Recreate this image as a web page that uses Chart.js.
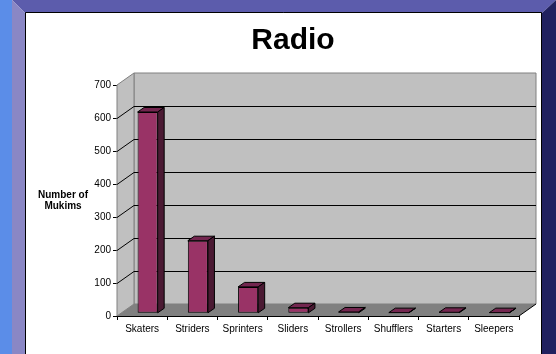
<!DOCTYPE html>
<html>
<head>
<meta charset="utf-8">
<style>
  html, body { margin: 0; padding: 0; background: #fff; }
  canvas { display: block; }
</style>
<script src="https://cdn.jsdelivr.net/npm/chart.js@4/dist/chart.umd.min.js"></script>
</head>
<body>
<canvas id="radio" width="556" height="354"></canvas>
<script>
const categories = ['Skaters', 'Striders', 'Sprinters', 'Sliders', 'Strollers', 'Shufflers', 'Starters', 'Sleepers'];
const mukims = [610, 220, 80, 17, 4, 2, 3, 2];
const yTicks = [0, 100, 200, 300, 400, 500, 600, 700];

const FONT = '"Liberation Sans", Arial, sans-serif';
// depth of the box and where the bars sit inside it
const DEPTH = { x: 17, y: -12 };
const BAR_SHIFT = { x: 5.5, y: -2.7 };
const BAR_DEPTH = { x: 6.5, y: -4.5 };

// slide frame + white panel
const framePlugin = {
  id: 'frame',
  beforeDraw(chart) {
    const ctx = chart.ctx;
    ctx.save();
    ctx.fillStyle = '#ffffff';
    ctx.fillRect(0, 0, 556, 354);

    ctx.fillStyle = '#5c5cac';
    ctx.beginPath();
    ctx.moveTo(12, 0); ctx.lineTo(556, 0); ctx.lineTo(542, 13); ctx.lineTo(25, 13);
    ctx.closePath(); ctx.fill();

    ctx.fillStyle = '#5b8de8';
    ctx.fillRect(0, 0, 12, 354);

    ctx.fillStyle = '#8a87c5';
    ctx.beginPath();
    ctx.moveTo(12, 0); ctx.lineTo(25, 13); ctx.lineTo(25, 354); ctx.lineTo(12, 354);
    ctx.closePath(); ctx.fill();

    ctx.fillStyle = '#21215f';
    ctx.beginPath();
    ctx.moveTo(556, 0); ctx.lineTo(556, 354); ctx.lineTo(542, 354); ctx.lineTo(542, 13);
    ctx.closePath(); ctx.fill();

    ctx.strokeStyle = '#000';
    ctx.lineWidth = 1;
    ctx.beginPath();
    ctx.moveTo(25.5, 354); ctx.lineTo(25.5, 12.5); ctx.lineTo(541.5, 12.5); ctx.lineTo(541.5, 354);
    ctx.stroke();

    // title and axis caption
    ctx.fillStyle = '#000';
    ctx.textAlign = 'center';
    ctx.textBaseline = 'alphabetic';
    ctx.font = 'bold 30px ' + FONT;
    ctx.fillText('Radio', 293, 49);
    ctx.font = 'bold 10px ' + FONT;
    ctx.textBaseline = 'middle';
    ctx.fillText('Number of', 63, 195);
    ctx.fillText('Mukims', 63, 206);
    ctx.restore();
  }
};

// walls, floor and gridlines of the 3D box
const boxPlugin = {
  id: 'box3d',
  beforeDatasetsDraw(chart) {
    const ctx = chart.ctx;
    const a = chart.chartArea;
    const y = chart.scales.y;
    const L = a.left, R = a.right, T = a.top, B = a.bottom;
    const dx = DEPTH.x, dy = DEPTH.y;
    ctx.save();
    ctx.lineWidth = 1;

    // back wall
    ctx.fillStyle = '#c0c0c0';
    ctx.strokeStyle = '#808080';
    ctx.beginPath();
    ctx.rect(L + dx, T + dy, R - L, B - T);
    ctx.fill(); ctx.stroke();

    // side wall
    ctx.beginPath();
    ctx.moveTo(L, T); ctx.lineTo(L + dx, T + dy); ctx.lineTo(L + dx, B + dy); ctx.lineTo(L, B);
    ctx.closePath();
    ctx.fill(); ctx.stroke();

    // floor
    ctx.fillStyle = '#808080';
    ctx.beginPath();
    ctx.moveTo(L, B); ctx.lineTo(R, B); ctx.lineTo(R + dx, B + dy); ctx.lineTo(L + dx, B + dy);
    ctx.closePath();
    ctx.fill();
    ctx.strokeStyle = '#000';
    ctx.beginPath();
    ctx.moveTo(R, B); ctx.lineTo(R + dx, B + dy);
    ctx.stroke();

    // gridlines
    ctx.strokeStyle = '#000';
    yTicks.forEach(v => {
      if (v === 0 || v === yTicks[yTicks.length - 1]) return;
      const py = Math.round(y.getPixelForValue(v)) + 0.5;
      ctx.beginPath();
      ctx.moveTo(L, py);
      ctx.lineTo(L + dx, py + dy);
      ctx.lineTo(R + dx, py + dy);
      ctx.stroke();
    });
    ctx.restore();

    // bars stand a little behind the front edge
    ctx.save();
    ctx.translate(BAR_SHIFT.x, BAR_SHIFT.y);
  },
  afterDatasetsDraw(chart) {
    const ctx = chart.ctx;
    const bx = BAR_DEPTH.x, by = BAR_DEPTH.y;
    ctx.lineWidth = 1;
    ctx.strokeStyle = '#000';
    chart.getDatasetMeta(0).data.forEach(bar => {
      const p = bar.getProps(['x', 'y', 'base', 'width'], true);
      const l = p.x - p.width / 2, r = p.x + p.width / 2;
      // top
      ctx.fillStyle = '#73264f';
      ctx.beginPath();
      ctx.moveTo(l, p.y); ctx.lineTo(r, p.y); ctx.lineTo(r + bx, p.y + by); ctx.lineTo(l + bx, p.y + by);
      ctx.closePath(); ctx.fill(); ctx.stroke();
      // side
      ctx.fillStyle = '#4b1a33';
      ctx.beginPath();
      ctx.moveTo(r, p.y); ctx.lineTo(r + bx, p.y + by); ctx.lineTo(r + bx, p.base + by); ctx.lineTo(r, p.base);
      ctx.closePath(); ctx.fill(); ctx.stroke();
    });
    ctx.restore();
  }
};

new Chart(document.getElementById('radio'), {
  type: 'bar',
  data: {
    labels: categories,
    datasets: [{
      label: 'Number of Mukims',
      data: mukims,
      backgroundColor: '#993366',
      borderColor: '#000',
      borderWidth: 1,
      borderSkipped: false,
      barPercentage: 1,
      categoryPercentage: 0.4
    }]
  },
  options: {
    responsive: false,
    animation: false,
    events: [],
    layout: { padding: { top: 85, right: 37, bottom: 0, left: 0 } },
    plugins: {
      legend: { display: false },
      tooltip: { enabled: false }
    },
    scales: {
      x: {
        offset: true,
        afterFit(scale) { scale.height = 38; },
        grid: { offset: true, drawOnChartArea: false, drawTicks: true, tickLength: 4, color: '#000' },
        border: { display: true, color: '#000' },
        ticks: { color: '#000', padding: 3, font: { family: FONT, size: 10 }, maxRotation: 0 }
      },
      y: {
        min: 0,
        max: 700,
        afterFit(scale) { scale.width = 117; },
        afterBuildTicks(scale) { scale.ticks = yTicks.map(v => ({ value: v })); },
        grid: { drawOnChartArea: false, drawTicks: true, tickLength: 4, color: '#000' },
        border: { display: true, color: '#000' },
        ticks: { color: '#000', padding: 2, font: { family: FONT, size: 10 } }
      }
    }
  },
  plugins: [framePlugin, boxPlugin]
});
</script>
</body>
</html>
